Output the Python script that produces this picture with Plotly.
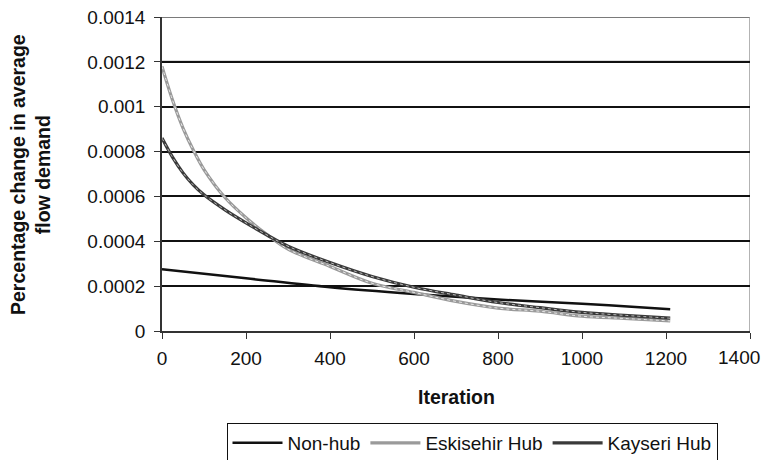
import plotly.graph_objects as go

# Iterations at which values were read
iters_nonhub = [0, 200, 400, 600, 800, 1000, 1100, 1210]
nonhub = [0.000275, 0.000235, 0.000195, 0.000165, 0.000140, 0.000122, 0.000110, 0.000097]

iters_hub = [0, 25, 50, 75, 100, 150, 200, 250, 300, 400, 500, 600, 700, 800, 900, 1000, 1100, 1210]
eskisehir = [0.00118, 0.00103, 0.000905, 0.000805, 0.00072, 0.000595, 0.000505, 0.00043, 0.000365,
             0.000288, 0.000213, 0.000172, 0.000132, 0.000102, 0.000088, 0.000066, 0.000056, 0.000045]
kayseri = [0.00086, 0.000775, 0.000705, 0.00065, 0.000607, 0.00054, 0.000482, 0.000428, 0.000378,
           0.000305, 0.000243, 0.000195, 0.000160, 0.000127, 0.000104, 0.000083, 0.000070, 0.000057]

x_ticks = [0, 200, 400, 600, 800, 1000, 1200, 1400]
x_tick_text = ["0", "200", "400", "600", "800", "1000", "1200", ""]
x_last_label = "1400"
y_ticks = [0, 0.0002, 0.0004, 0.0006, 0.0008, 0.001, 0.0012, 0.0014]
y_tick_text = ["0", "0.0002", "0.0004", "0.0006", "0.0008", "0.001", "0.0012", "0.0014"]

FONT = "Liberation Sans, Arial, Helvetica, sans-serif"

fig = go.Figure()
fig.add_trace(go.Scatter(x=iters_nonhub, y=nonhub, mode="lines", name="Non-hub",
                         line=dict(color="#111111", width=2.5, shape="spline")))
fig.add_trace(go.Scatter(x=iters_hub, y=eskisehir, mode="lines", name="Eskisehir Hub",
                         line=dict(color="#9a9a9a", width=3.2, shape="spline")))
fig.add_trace(go.Scatter(x=iters_hub, y=eskisehir, mode="lines", showlegend=False, hoverinfo="skip",
                         line=dict(color="#e8e8e8", width=1, dash="dot", shape="spline")))
fig.add_trace(go.Scatter(x=iters_hub, y=kayseri, mode="lines", name="Kayseri Hub",
                         line=dict(color="#3a3a3a", width=3.2, shape="spline")))
fig.add_trace(go.Scatter(x=iters_hub, y=kayseri, mode="lines", showlegend=False, hoverinfo="skip",
                         line=dict(color="#bbbbbb", width=1, dash="dot", shape="spline")))

# grey top gridlines and right border
fig.add_shape(type="line", xref="x", yref="y", x0=0, x1=1400, y0=0.0012, y1=0.0012,
              line=dict(color="#7a7a7a", width=2), layer="below")
fig.add_shape(type="line", xref="x", yref="y", x0=0, x1=1400, y0=0.0014, y1=0.0014,
              line=dict(color="#7a7a7a", width=2), layer="below")
fig.add_shape(type="line", xref="x", yref="y", x0=1400, x1=1400, y0=0, y1=0.0014,
              line=dict(color="#9a9a9a", width=1.5), layer="below")

fig.update_layout(
    width=761, height=460,
    margin=dict(l=162, r=11, t=17, b=129, autoexpand=False),
    paper_bgcolor="white", plot_bgcolor="white",
    font=dict(family=FONT, size=19, color="#111111"),
    showlegend=True,
    legend=dict(orientation="h", x=472 / 761, xref="container", xanchor="center",
                y=1 - 423 / 460, yref="container", yanchor="top",
                bordercolor="#111111", borderwidth=1, font=dict(size=19),
                itemwidth=50, tracegroupgap=0),
    xaxis=dict(range=[0, 1400], tickvals=x_ticks, ticktext=x_tick_text, ticks="outside", ticklen=6,
               tickcolor="#333333", showline=True, linecolor="#333333", linewidth=1.5,
               showgrid=False, zeroline=False, tickfont=dict(size=19), automargin=False,
               ticklabelstandoff=3),
    yaxis=dict(range=[0, 0.0014], tickvals=y_ticks, ticktext=y_tick_text, ticks="outside",
               ticklen=6, tickcolor="#333333", showline=True, linecolor="#333333", linewidth=1.5,
               showgrid=True, gridcolor="#111111", gridwidth=2, zeroline=False,
               tickfont=dict(size=19), automargin=False, ticklabelstandoff=5),
    annotations=[
        dict(text="<b>Percentage change in average<br>flow demand</b>", xref="paper", yref="paper",
             x=-0.2245, y=0.5, xanchor="center", yanchor="middle", textangle=-90,
             showarrow=False, font=dict(size=19.5)),
        dict(text="<b>Iteration</b>", xref="paper", yref="paper", x=0.5, y=-0.21,
             xanchor="center", yanchor="middle", showarrow=False, font=dict(size=19.5)),
        dict(text=x_last_label, xref="x", yref="y", x=x_ticks[-1], y=0, xanchor="right",
             yanchor="top", xshift=11, yshift=-15, showarrow=False, font=dict(size=19),
             borderpad=0),
    ],
)

fig.write_html("out.html")
